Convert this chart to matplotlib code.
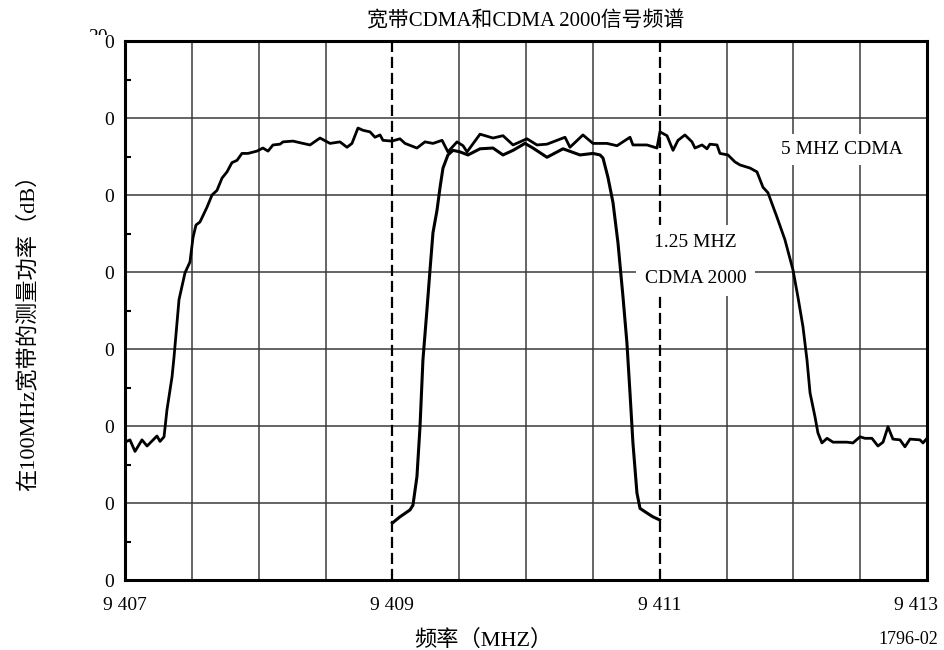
import matplotlib
matplotlib.use('Agg')
import matplotlib.pyplot as plt
from matplotlib.transforms import Bbox, ScaledTranslation

plt.rcParams['font.family'] = ['Liberation Serif', 'Noto Sans CJK SC']
plt.rcParams['font.size'] = 14

# ---------------------------------------------------------------------------
# Data
# ---------------------------------------------------------------------------

TITLE = '宽带CDMA和CDMA 2000信号频谱'
XLABEL = '频率（MHZ）'
YLABEL = '在100MHz宽带的测量功率（dB）'
FIG_ID = '1796-02'

# 5 MHz wideband CDMA spectrum
wide_freq = [
    9407.000, 9407.037, 9407.075, 9407.127, 9407.165, 9407.239, 9407.262, 9407.292, 9407.314, 9407.352,
    9407.367, 9407.404, 9407.449, 9407.486, 9407.509, 9407.531, 9407.561, 9407.613, 9407.651, 9407.688,
    9407.726, 9407.763, 9407.800, 9407.838, 9407.875, 9407.920, 9407.987, 9408.032, 9408.070, 9408.107,
    9408.160, 9408.182, 9408.257, 9408.332, 9408.384, 9408.459, 9408.534, 9408.608, 9408.661, 9408.698,
    9408.743, 9408.781, 9408.833, 9408.870, 9408.908, 9408.930, 9408.997, 9409.057, 9409.095, 9409.184,
    9409.244, 9409.304, 9409.372, 9409.416, 9409.484, 9409.529, 9409.559, 9409.656, 9409.753, 9409.828,
    9409.903, 9410.007, 9410.082, 9410.157, 9410.292, 9410.329, 9410.426, 9410.501, 9410.606, 9410.681,
    9410.778, 9410.800, 9410.905, 9410.980, 9411.002, 9411.055, 9411.100, 9411.137, 9411.189, 9411.242,
    9411.264, 9411.317, 9411.354, 9411.376, 9411.429, 9411.451, 9411.511, 9411.563, 9411.601, 9411.676,
    9411.728, 9411.773, 9411.810, 9411.878, 9411.937, 9411.997, 9412.035, 9412.072, 9412.102, 9412.125,
    9412.162, 9412.184, 9412.214, 9412.252, 9412.297, 9412.401, 9412.446, 9412.499, 9412.536, 9412.588,
    9412.633, 9412.671, 9412.708, 9412.745, 9412.798, 9412.835, 9412.873, 9412.947, 9412.970, 9413.000,
]
wide_level = [
    -72.1, -71.8, -73.3, -71.8, -72.6, -71.3, -72.0, -71.4, -67.9, -63.6,
    -61.0, -53.6, -50.1, -48.7, -45.5, -43.9, -43.5, -41.6, -40.0, -39.4,
    -37.8, -37.0, -35.8, -35.5, -34.6, -34.6, -34.3, -33.9, -34.3, -33.5,
    -33.4, -33.1, -33.0, -33.3, -33.5, -32.6, -33.3, -33.1, -33.8, -33.3,
    -31.3, -31.6, -31.8, -32.5, -32.2, -32.9, -33.0, -32.7, -33.3, -33.9,
    -33.1, -33.3, -32.9, -34.4, -33.1, -33.6, -34.4, -32.1, -32.6, -32.3,
    -33.5, -32.7, -33.5, -33.4, -32.5, -33.8, -32.2, -33.3, -33.3, -33.6,
    -32.5, -33.5, -33.5, -33.9, -31.8, -32.3, -34.2, -32.9, -32.2, -33.1,
    -33.9, -33.5, -34.0, -33.4, -33.5, -34.6, -34.8, -35.7, -36.1, -36.5,
    -37.0, -39.0, -39.7, -42.9, -45.8, -49.7, -53.3, -57.1, -61.4, -65.7,
    -68.8, -70.9, -72.2, -71.6, -72.1, -72.1, -72.2, -71.4, -71.6, -71.6,
    -72.6, -72.1, -70.1, -71.7, -71.8, -72.7, -71.7, -71.8, -72.2, -71.6,
]

# 1.25 MHz CDMA 2000 spectrum
narrow_freq = [
    9409.000, 9409.057, 9409.132, 9409.154, 9409.184, 9409.207, 9409.229, 9409.259, 9409.282, 9409.304,
    9409.334, 9409.357, 9409.379, 9409.416, 9409.454, 9409.506, 9409.566, 9409.656, 9409.753, 9409.828,
    9409.903, 9409.992, 9410.052, 9410.157, 9410.277, 9410.404, 9410.501, 9410.554, 9410.576, 9410.613,
    9410.651, 9410.688, 9410.726, 9410.755, 9410.778, 9410.800, 9410.830, 9410.853, 9410.905, 9410.950,
    9411.000,
]
narrow_level = [
    -82.6, -81.8, -80.9, -80.3, -76.6, -70.1, -61.4, -54.9, -49.7, -44.9,
    -42.0, -39.0, -36.5, -34.8, -34.2, -34.4, -34.8, -34.0, -33.9, -34.8,
    -34.2, -33.3, -33.9, -35.1, -34.0, -34.8, -34.6, -34.8, -35.2, -37.7,
    -41.0, -46.2, -53.3, -59.2, -65.7, -72.2, -78.7, -80.7, -81.3, -81.8,
    -82.2,
]

# band edges of the CDMA 2000 channel (dashed lines)
band_edges = [9409, 9411]

x_ticks = [9407, 9409, 9411, 9413]
x_ticklabels = ['9 407', '9 409', '9 411', '9 413']
x_grid = [9407.5, 9408, 9408.5, 9409.5, 9410, 9410.5, 9411.5, 9412, 9412.5]
y_ticks = [-90, -80, -70, -60, -50, -40, -30, -20]
y_ticklabels = ['0'] * len(y_ticks)
y_minor = [-85, -75, -65, -55, -45, -35, -25]

# ---------------------------------------------------------------------------
# Plot
# ---------------------------------------------------------------------------

W, H = 944, 650
fig = plt.figure(figsize=(W / 100, H / 100), dpi=100)
ax = fig.add_axes([125 / W, 1 - 580 / H, 802 / W, 539 / H])

grid_kw = dict(color='#3a3a3a', lw=1.1, zorder=1)
for xg in x_grid:
    ax.axvline(xg, **grid_kw)
for yg in y_ticks[1:-1]:
    ax.axhline(yg, **grid_kw)
for xe in band_edges:
    ax.axvline(xe, color='black', lw=1.6, ls=(0, (5, 2.2)), zorder=2)

ax.plot(wide_freq, wide_level, color='black', lw=2.0, zorder=3,
        solid_joinstyle='round')
ax.plot(narrow_freq, narrow_level, color='black', lw=2.2, zorder=3,
        solid_joinstyle='round')

ax.set_xlim(9407, 9413)
ax.set_ylim(-90, -20)
ax.set_xticks(x_ticks)
ax.set_xticklabels(x_ticklabels)
ax.set_yticks(y_ticks)
ax.set_yticklabels(y_ticklabels)
ax.set_yticks(y_minor, minor=True)
ax.tick_params(axis='x', length=0, pad=12, labelsize=14)
ax.tick_params(axis='y', which='major', length=0, pad=8, labelsize=14)
ax.tick_params(axis='y', which='minor', direction='in', length=4, width=1.5)
for sp in ax.spines.values():
    sp.set_linewidth(2.2)

# last x label sits a bit left of its tick in the original
last = ax.get_xticklabels()[-1]
last.set_transform(last.get_transform() + ScaledTranslation(-0.11, 0, fig.dpi_scale_trans))

# annotations with white boxes (they break the grid lines)
ax.text(9412.36, -34.1, '5 MHZ CDMA', ha='center', va='center', fontsize=14,
        zorder=4, bbox=dict(boxstyle='square,pad=0.35', fc='white', ec='none'))
ax.text(9411.27, -48.5, '1.25 MHZ\nCDMA 2000', ha='center', va='center',
        fontsize=14, linespacing=2.45, zorder=4,
        bbox=dict(boxstyle='square,pad=0.45', fc='white', ec='none'))

fig.text(526 / W, 1 - 21 / H, TITLE, ha='center', va='center', fontsize=15)
fig.text(483 / W, 1 - 640 / H, XLABEL, ha='center', va='center', fontsize=16)
fig.text(938 / W, 1 - 640 / H, FIG_ID, ha='right', va='center', fontsize=13)
fig.text(28 / W, 1 - 327 / H, YLABEL, ha='center', va='center',
         rotation=90, fontsize=16)

# the leftover top tick label, partly hidden in the original
t = fig.text(98 / W, 1 - 42 / H, '20', ha='center', va='baseline', fontsize=14)
t.set_clip_box(Bbox.from_extents(80, H - 35, 118, H - 25))
t.set_clip_on(True)

fig.savefig('out.png', dpi=100)
